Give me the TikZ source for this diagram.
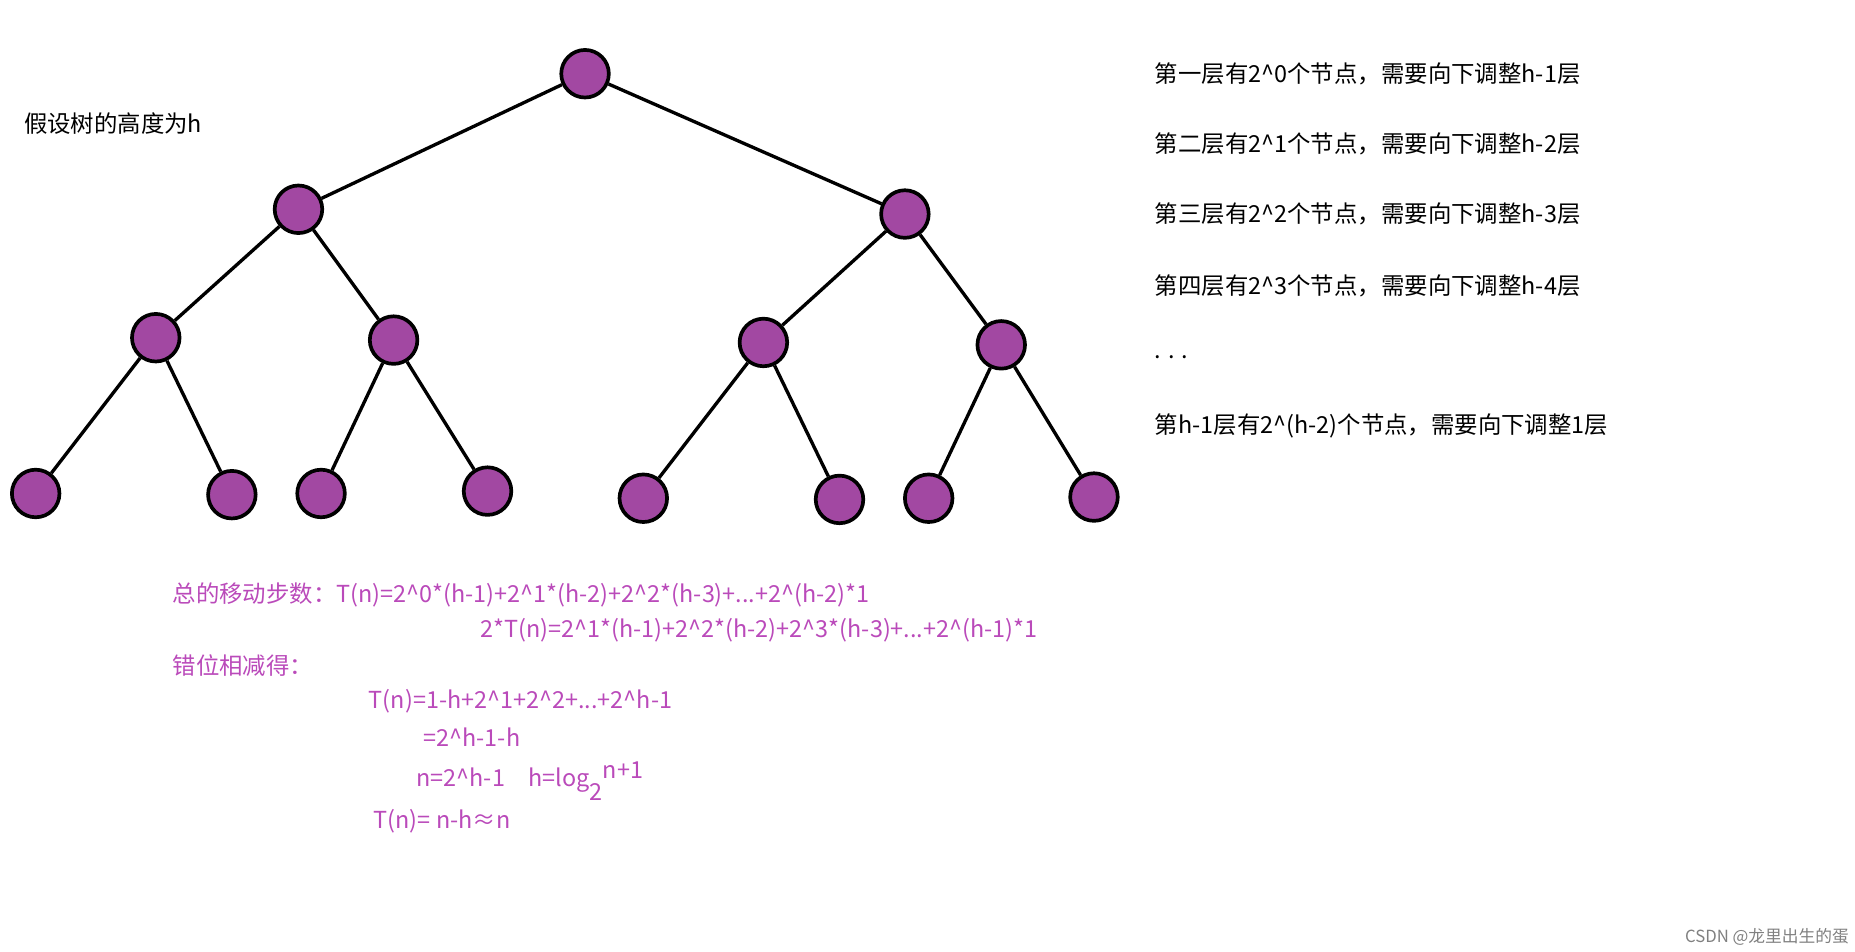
\documentclass[tikz,border=0pt]{standalone}
\usepackage{fontspec}
\setmainfont{Noto Sans CJK SC}
\definecolor{treepurple}{RGB}{162,72,162}
\definecolor{calcpurple}{RGB}{186,74,186}
\begin{document}
\begin{tikzpicture}[x=0.025cm,y=-0.025cm,
    vert/.style={draw=black,line width=2.2pt,fill=treepurple,circle,inner sep=0pt,minimum size=1cm},
    edge/.style={line width=2pt},
    lvl/.style={anchor=west,font=\fontsize{14}{16}\selectfont,inner sep=0pt},
    calc/.style={anchor=west,font=\fontsize{14}{16}\selectfont,text=calcpurple,inner sep=0pt}]
  \useasboundingbox (0,0) rectangle (1560,800.6);
  % tree
  \node[vert] (r) at (492,62) {};
  \foreach \n/\x/\y in {a/251/176,b/761/180,
      aa/131/284,ab/331/286,ba/642/288,bb/842/290,
      aaa/30/415,aab/195/416,aba/270/415,abb/410/413,
      baa/541/419,bab/706/420,bba/781/419,bbb/920/418}
    \node[vert] (\n) at (\x,\y) {};
  \foreach \p/\c in {r/a,r/b,a/aa,a/ab,b/ba,b/bb,aa/aaa,aa/aab,ab/aba,ab/abb,
      ba/baa,ba/bab,bb/bba,bb/bbb}
    \draw[edge] (\p) -- (\c);
  % labels
  \node[lvl] (hgt) at (20,104) {假设树的高度为h};
  \node[lvl] (l1) at (971,62) {第一层有2\^{}0个节点，需要向下调整h-1层};
  \node[lvl] (l2) at (971,121) {第二层有2\^{}1个节点，需要向下调整h-2层};
  \node[lvl] (l3) at (971,180) {第三层有2\^{}2个节点，需要向下调整h-3层};
  \node[lvl] (l4) at (971,240) {第四层有2\^{}3个节点，需要向下调整h-4层};
  \node[lvl] (ld) at (971,300) {. . .};
  \node[lvl] (lh) at (971,358) {第h-1层有2\^{}(h-2)个节点，需要向下调整1层};
  % calculation
  \node[calc] (s1) at (145,500) {总的移动步数：T(n)=2\^{}0*(h-1)+2\^{}1*(h-2)+2\^{}2*(h-3)+...+2\^{}(h-2)*1};
  \node[calc] (s2) at (404,530) {2*T(n)=2\^{}1*(h-1)+2\^{}2*(h-2)+2\^{}3*(h-3)+...+2\^{}(h-1)*1};
  \node[calc] (s3) at (145,560) {错位相减得：};
  \node[calc] (s4) at (310,590) {T(n)=1-h+2\^{}1+2\^{}2+...+2\^{}h-1};
  \node[calc] (s5) at (356,620) {=2\^{}h-1-h};
  \node[calc] (s6) at (350,657) {n=2\^{}h-1\quad h=log\raisebox{-1.1ex}{2}\raisebox{0.6ex}{n+1}};
  \node[calc] (s7) at (314,691) {T(n)= n-h≈n};
  \node[anchor=east,font=\fontsize{10}{12}\selectfont,text=gray,inner sep=0pt] (mark) at (1555,788) {CSDN @龙里出生的蛋};
\end{tikzpicture}
\end{document}
